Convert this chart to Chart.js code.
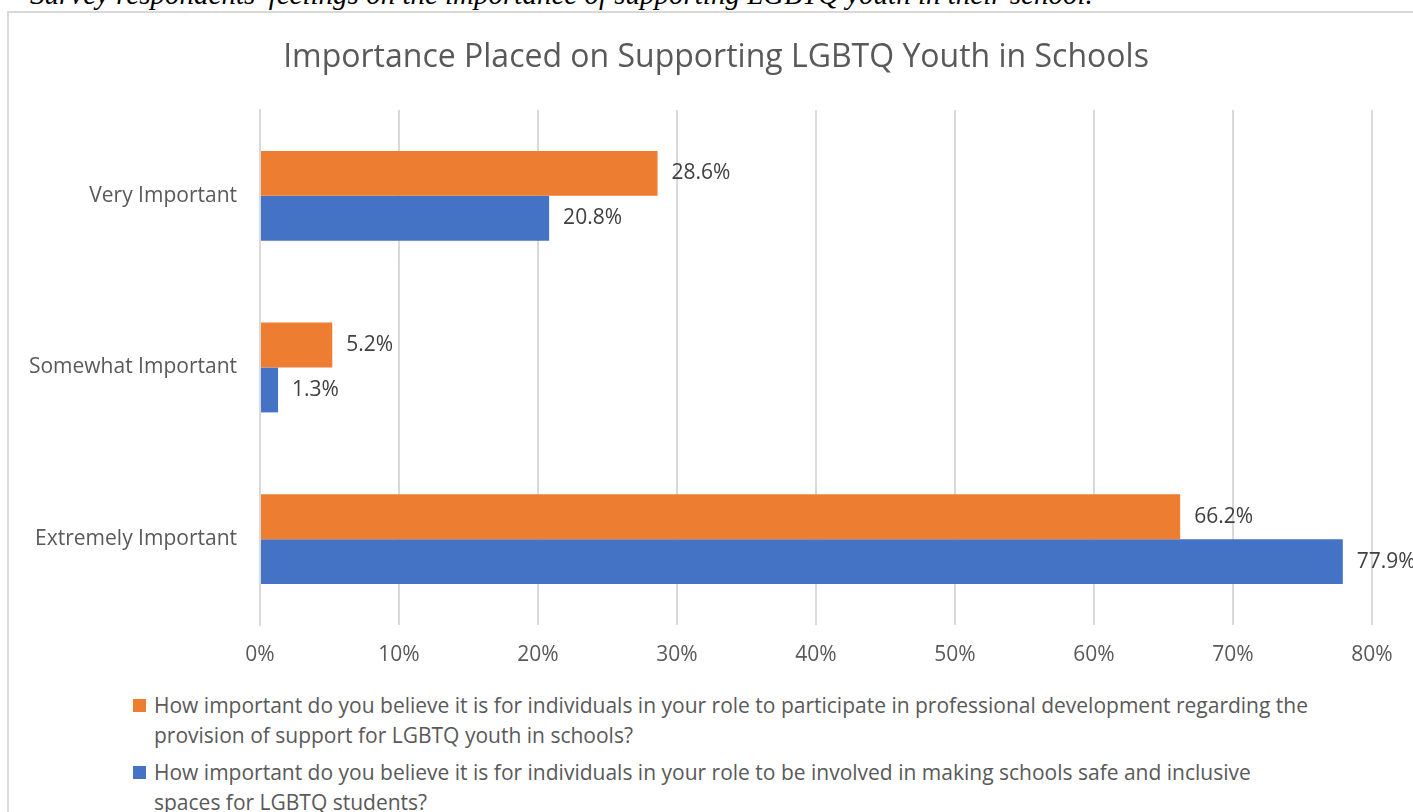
<!DOCTYPE html>
<html>
<head>
<meta charset="utf-8">
<script src="https://cdn.jsdelivr.net/npm/chart.js@4"></script>
<style>
    body { margin: 0; width: 1413px; height: 812px; overflow: hidden; background: #fff; position: relative; }
    #caption {
        position: absolute; left: 30px; top: -22px; white-space: nowrap;
        font: italic 29px "Liberation Serif", "DejaVu Serif", serif; color: #000;
    }
    #frame {
        position: absolute; left: 7px; top: 11px; width: 1414px; height: 820px;
        border: 2px solid #d9d9d9; background: #fff;
    }
    #title {
        position: absolute; left: 0; top: 20px; width: 1414px; text-align: center;
        font: 32px "Open Sans", Lato, sans-serif; color: #595959; white-space: nowrap;
    }
    #chartBox { position: relative; width: 1414px; height: 672px; }
    #legend {
        position: absolute; left: 124px; top: 677px; width: 1300px;
        font: 21px "Open Sans", Lato, sans-serif; color: #595959;
    }
    .item { position: relative; padding-left: 21px; line-height: 30px; margin-bottom: 7px; }
    .swatch { position: absolute; left: 0; top: 9px; width: 13px; height: 13px; }
</style>
</head>
<body>
<div id="caption">Survey respondents' feelings on the importance of supporting LGBTQ youth in their school.</div>
<div id="frame">
    <div id="chartBox"><canvas id="myChart"></canvas></div>
    <div id="title"></div>
    <div id="legend"></div>
</div>
<script>
// Chart data
const categories = ['Very Important', 'Somewhat Important', 'Extremely Important'];
const developmentValues = [28.6, 5.2, 66.2];
const safeSpacesValues = [20.8, 1.3, 77.9];
const tickLabels = ['0%', '10%', '20%', '30%', '40%', '50%', '60%', '70%', '80%'];
const seriesLabels = [
    ['How important do you believe it is for individuals in your role to participate in professional development regarding the',
     'provision of support for LGBTQ youth in schools?'],
    ['How important do you believe it is for individuals in your role to be involved in making schools safe and inclusive',
     'spaces for LGBTQ students?']
];
const seriesColors = ['#ED7D31', '#4472C4'];
const chartTitle = 'Importance Placed on Supporting LGBTQ Youth in Schools';

const fontName = '"Open Sans", Lato, sans-serif';

document.getElementById('title').textContent = chartTitle;

// Value labels at the end of each bar
const valueLabels = {
    id: 'valueLabels',
    afterDatasetsDraw(chart) {
        const ctx = chart.ctx;
        ctx.save();
        ctx.font = '21px ' + fontName;
        ctx.fillStyle = '#404040';
        ctx.textAlign = 'left';
        ctx.textBaseline = 'middle';
        chart.data.datasets.forEach((ds, i) => {
            chart.getDatasetMeta(i).data.forEach((bar, j) => {
                ctx.fillText(ds.data[j].toFixed(1) + '%', bar.x + 14, bar.y);
            });
        });
        ctx.restore();
    }
};

const ctx = document.getElementById('myChart').getContext('2d');
const myChart = new Chart(ctx, {
    type: 'bar',
    data: {
        labels: categories,
        datasets: [
            { label: seriesLabels[0].join(' '), data: developmentValues, backgroundColor: seriesColors[0] },
            { label: seriesLabels[1].join(' '), data: safeSpacesValues, backgroundColor: seriesColors[1] }
        ]
    },
    options: {
        indexAxis: 'y',
        responsive: true,
        maintainAspectRatio: false,
        animation: false,
        categoryPercentage: 0.523,
        barPercentage: 1,
        layout: { padding: { left: 0, right: 51, top: 97, bottom: 0 } },
        plugins: {
            legend: { display: false },
            tooltip: { enabled: false },
            title: { display: false }
        },
        scales: {
            x: {
                min: 0,
                max: 80,
                ticks: {
                    stepSize: 10,
                    color: '#595959',
                    font: { family: fontName, size: 21 },
                    padding: 17,
                    callback: (v, i) => tickLabels[i]
                },
                grid: { color: '#d9d9d9', lineWidth: 2, drawTicks: false },
                border: { display: false },
                afterFit(scale) { scale.height = 60; }
            },
            y: {
                ticks: {
                    color: '#595959',
                    font: { family: fontName, size: 21 },
                    padding: 23
                },
                grid: { display: false, drawTicks: false },
                border: { color: '#d9d9d9', width: 2 },
                afterFit(scale) { scale.width = 251; }
            }
        }
    },
    plugins: [valueLabels]
});

// HTML legend with the two long labels
const legendEl = document.getElementById('legend');
seriesLabels.forEach((lines, i) => {
    const item = document.createElement('div');
    item.className = 'item';
    const sw = document.createElement('span');
    sw.className = 'swatch';
    sw.style.background = seriesColors[i];
    item.appendChild(sw);
    lines.forEach((line, k) => {
        if (k > 0) item.appendChild(document.createElement('br'));
        item.appendChild(document.createTextNode(line));
    });
    legendEl.appendChild(item);
});
</script>
</body>
</html>
